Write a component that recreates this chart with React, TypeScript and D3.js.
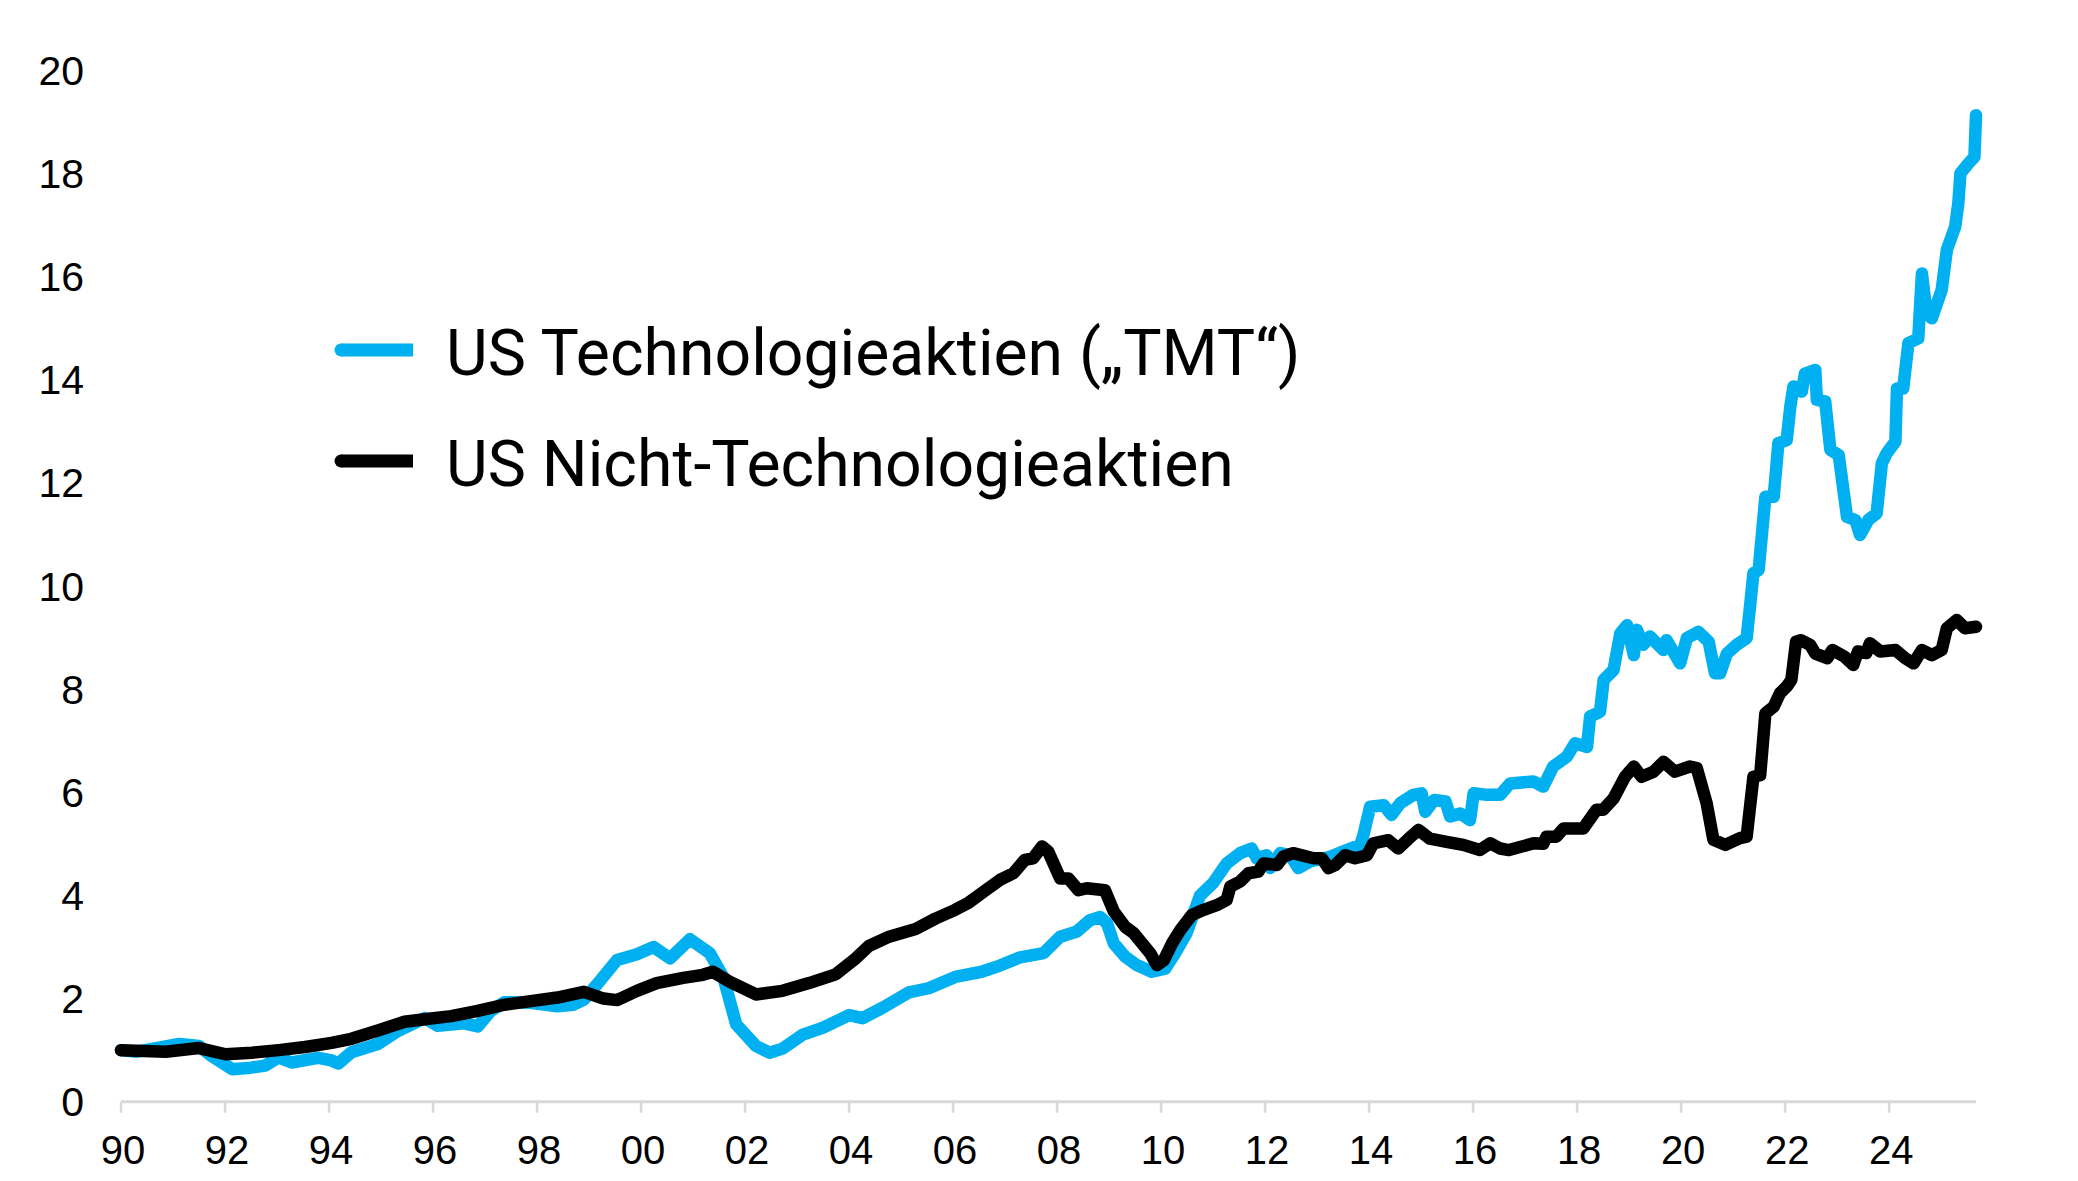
import * as d3 from "d3";
import React, { useEffect } from "react";

const W = 2078;
const H = 1181;

// [decimal year, index value (1990 = 1)]
const tmtSeries: [number, number][] = [
  [1990.0, 1.0], [1990.3, 0.97], [1990.73, 1.05], [1991.12, 1.12], [1991.5, 1.08],
  [1991.75, 0.88], [1992.14, 0.63], [1992.5, 0.66], [1992.77, 0.7], [1993.03, 0.86],
  [1993.28, 0.76], [1993.79, 0.85], [1994.05, 0.8], [1994.18, 0.74], [1994.43, 0.96],
  [1994.94, 1.12], [1995.32, 1.37], [1995.84, 1.62], [1996.09, 1.47], [1996.6, 1.52],
  [1996.86, 1.46], [1997.11, 1.76], [1997.37, 1.93], [1997.88, 1.92], [1998.39, 1.85],
  [1998.7, 1.88], [1998.9, 1.98], [1999.15, 2.27], [1999.54, 2.75], [1999.92, 2.86],
  [2000.24, 3.0], [2000.56, 2.78], [2000.94, 3.15], [2001.32, 2.88], [2001.58, 2.42],
  [2001.83, 1.5], [2002.21, 1.08], [2002.47, 0.95], [2002.72, 1.03], [2003.11, 1.3],
  [2003.49, 1.43], [2004.0, 1.68], [2004.26, 1.62], [2004.64, 1.82], [2005.15, 2.12],
  [2005.53, 2.2], [2006.04, 2.42], [2006.55, 2.52], [2006.9, 2.64], [2007.29, 2.8],
  [2007.74, 2.88], [2008.06, 3.2], [2008.38, 3.3], [2008.63, 3.52], [2008.83, 3.58],
  [2008.96, 3.46], [2009.09, 3.07], [2009.31, 2.81], [2009.53, 2.65], [2009.82, 2.52],
  [2010.08, 2.58], [2010.27, 2.88], [2010.49, 3.27], [2010.75, 4.0], [2011.0, 4.24],
  [2011.26, 4.62], [2011.52, 4.82], [2011.74, 4.91], [2011.84, 4.72], [2012.03, 4.78],
  [2012.1, 4.53], [2012.29, 4.82], [2012.48, 4.78], [2012.64, 4.53], [2012.87, 4.66],
  [2013.25, 4.75], [2013.57, 4.88], [2013.83, 4.98], [2013.89, 5.17], [2014.02, 5.72],
  [2014.28, 5.75], [2014.43, 5.56], [2014.6, 5.79], [2014.85, 5.95], [2015.01, 5.98],
  [2015.08, 5.62], [2015.25, 5.85], [2015.47, 5.82], [2015.56, 5.53], [2015.75, 5.59],
  [2015.94, 5.46], [2016.01, 5.98], [2016.27, 5.95], [2016.52, 5.95], [2016.71, 6.17],
  [2017.16, 6.21], [2017.35, 6.11], [2017.54, 6.5], [2017.8, 6.69], [2017.96, 6.95],
  [2018.19, 6.88], [2018.25, 7.47], [2018.44, 7.56], [2018.51, 8.18], [2018.7, 8.37],
  [2018.83, 9.08], [2018.96, 9.24], [2019.09, 8.66], [2019.15, 9.15], [2019.27, 8.86],
  [2019.4, 9.02], [2019.66, 8.76], [2019.72, 8.95], [2019.98, 8.5], [2020.11, 8.99],
  [2020.33, 9.11], [2020.53, 8.92], [2020.65, 8.31], [2020.75, 8.31], [2020.88, 8.69],
  [2021.07, 8.86], [2021.26, 8.99], [2021.33, 9.66], [2021.39, 10.25], [2021.49, 10.31],
  [2021.62, 11.73], [2021.78, 11.73], [2021.87, 12.77], [2022.03, 12.83], [2022.1, 13.48],
  [2022.16, 13.87], [2022.32, 13.77], [2022.38, 14.12], [2022.58, 14.19], [2022.61, 13.61],
  [2022.77, 13.58], [2022.87, 12.64], [2023.03, 12.54], [2023.19, 11.34], [2023.35, 11.28],
  [2023.44, 10.99], [2023.6, 11.28], [2023.76, 11.41], [2023.86, 12.38], [2023.95, 12.57],
  [2024.12, 12.8], [2024.15, 13.83], [2024.27, 13.83], [2024.37, 14.71], [2024.56, 14.8],
  [2024.63, 16.06], [2024.72, 15.29], [2024.82, 15.19], [2025.01, 15.74], [2025.11, 16.52],
  [2025.27, 16.97], [2025.33, 17.42], [2025.37, 18.0], [2025.53, 18.2], [2025.64, 18.32],
  [2025.67, 19.13],
];

const nonTmtSeries: [number, number][] = [
  [1990.0, 1.0], [1990.86, 0.97], [1991.5, 1.04], [1992.01, 0.92], [1992.52, 0.95],
  [1993.03, 1.0], [1993.54, 1.06], [1994.05, 1.14], [1994.43, 1.22], [1994.94, 1.38],
  [1995.45, 1.55], [1995.84, 1.6], [1996.35, 1.66], [1996.86, 1.76], [1997.37, 1.88],
  [1997.88, 1.95], [1998.39, 2.02], [1998.9, 2.13], [1999.28, 2.0], [1999.54, 1.97],
  [1999.92, 2.15], [2000.3, 2.3], [2000.81, 2.4], [2001.19, 2.46], [2001.38, 2.52],
  [2001.7, 2.33], [2002.21, 2.08], [2002.72, 2.15], [2003.23, 2.3], [2003.74, 2.47],
  [2004.13, 2.78], [2004.38, 3.02], [2004.77, 3.2], [2005.28, 3.35], [2005.66, 3.55],
  [2006.04, 3.72], [2006.3, 3.86], [2006.6, 4.08], [2006.9, 4.3], [2007.16, 4.43],
  [2007.38, 4.69], [2007.54, 4.72], [2007.71, 4.95], [2007.83, 4.85], [2008.06, 4.33],
  [2008.22, 4.33], [2008.41, 4.1], [2008.57, 4.14], [2008.92, 4.1], [2009.09, 3.69],
  [2009.31, 3.39], [2009.47, 3.27], [2009.66, 3.04], [2009.79, 2.88], [2009.92, 2.65],
  [2010.05, 2.74], [2010.21, 3.07], [2010.37, 3.33], [2010.59, 3.62], [2010.82, 3.72],
  [2011.07, 3.81], [2011.26, 3.91], [2011.33, 4.17], [2011.52, 4.27], [2011.68, 4.43],
  [2011.87, 4.46], [2011.97, 4.62], [2012.23, 4.59], [2012.35, 4.75], [2012.54, 4.82],
  [2012.93, 4.72], [2013.09, 4.72], [2013.22, 4.53], [2013.35, 4.59], [2013.54, 4.78],
  [2013.73, 4.72], [2013.96, 4.78], [2014.08, 5.01], [2014.37, 5.07], [2014.56, 4.91],
  [2014.76, 5.1], [2014.95, 5.27], [2015.17, 5.1], [2015.49, 5.04], [2015.81, 4.98],
  [2016.13, 4.88], [2016.33, 5.01], [2016.52, 4.91], [2016.69, 4.88], [2017.16, 5.01],
  [2017.35, 5.0], [2017.41, 5.14], [2017.6, 5.14], [2017.74, 5.3], [2018.12, 5.3],
  [2018.37, 5.66], [2018.5, 5.66], [2018.7, 5.88], [2018.92, 6.3], [2019.09, 6.5],
  [2019.24, 6.3], [2019.47, 6.4], [2019.66, 6.59], [2019.88, 6.4], [2020.17, 6.5],
  [2020.3, 6.47], [2020.49, 5.79], [2020.62, 5.08], [2020.85, 4.98], [2021.13, 5.11],
  [2021.26, 5.14], [2021.39, 6.3], [2021.52, 6.33], [2021.62, 7.53], [2021.78, 7.66],
  [2021.9, 7.92], [2022.03, 8.05], [2022.12, 8.18], [2022.21, 8.92], [2022.3, 8.95],
  [2022.48, 8.86], [2022.58, 8.69], [2022.81, 8.6], [2022.91, 8.76], [2023.14, 8.63],
  [2023.31, 8.47], [2023.4, 8.73], [2023.56, 8.7], [2023.63, 8.89], [2023.83, 8.73],
  [2024.12, 8.76], [2024.31, 8.6], [2024.47, 8.5], [2024.63, 8.76], [2024.82, 8.66],
  [2025.01, 8.76], [2025.11, 9.18], [2025.3, 9.34], [2025.46, 9.18], [2025.67, 9.21],
];

const yTicks = [0, 2, 4, 6, 8, 10, 12, 14, 16, 18, 20];
const xTicks = [1990, 1992, 1994, 1996, 1998, 2000, 2002, 2004, 2006, 2008, 2010, 2012, 2014, 2016, 2018, 2020, 2022, 2024];
const legendLabels = ["US Technologieaktien (\u201ETMT\u201C)", "US Nicht-Technologieaktien"];
const seriesColors = ["#00B0F0", "#000000"];

const x = d3.scaleLinear().domain([1990, 2025.67]).range([121, 1976]);
const y = d3.scaleLinear().domain([0, 20]).range([1101.7, 70.3]);

const line = d3
  .line<[number, number]>()
  .x((d) => x(d[0]))
  .y((d) => y(d[1]));

const axisFont = "'Liberation Sans', Arial, sans-serif";
const legendFont = "Roboto, 'Noto Sans', sans-serif";

export default function App() {
  useEffect(() => {
    document.body.style.margin = "0";
  }, []);

  return (
    <svg width={W} height={H} viewBox={`0 0 ${W} ${H}`} style={{ display: "block", background: "#fff" }}>
      {/* y labels */}
      {yTicks.map((t) => (
        <text key={t} x={84} y={y(t) + 14.5} textAnchor="end" fontFamily={axisFont} fontSize={41} fill="#000">
          {t}
        </text>
      ))}

      {/* x axis */}
      <line x1={x.range()[0]} x2={x.range()[1]} y1={y(0)} y2={y(0)} stroke="#d9d9d9" strokeWidth={3} />
      {xTicks.map((t) => (
        <g key={t}>
          <line x1={x(t)} x2={x(t)} y1={y(0)} y2={y(0) + 11} stroke="#d9d9d9" strokeWidth={2.5} />
          <text x={x(t) + 2} y={1164} textAnchor="middle" fontFamily={axisFont} fontSize={40} fill="#000">
            {String(t % 100).padStart(2, "0")}
          </text>
        </g>
      ))}

      {/* series */}
      <path d={line(tmtSeries) ?? ""} fill="none" stroke={seriesColors[0]} strokeWidth={12.5} strokeLinejoin="round" strokeLinecap="round" />
      <path d={line(nonTmtSeries) ?? ""} fill="none" stroke={seriesColors[1]} strokeWidth={12.5} strokeLinejoin="round" strokeLinecap="round" />

      {/* legend */}
      {legendLabels.map((label, i) => {
        const ly = 350 + i * 111;
        return (
          <g key={label}>
            <line x1={341} x2={413} y1={ly} y2={ly} stroke={seriesColors[i]} strokeWidth={13} />
            <circle cx={341} cy={ly} r={6.5} fill={seriesColors[i]} />
            <text x={446} y={ly + 25} fontFamily={legendFont} fontSize={64.3} fill="#000">
              {label}
            </text>
          </g>
        );
      })}
    </svg>
  );
}
